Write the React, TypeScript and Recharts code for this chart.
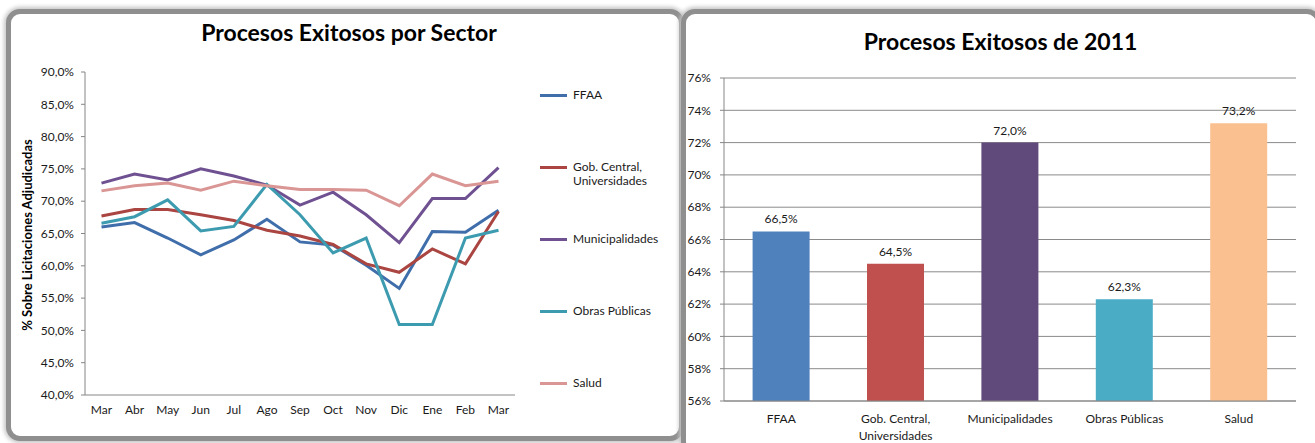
import { LineChart, Line, BarChart, Bar, Cell, XAxis, YAxis, CartesianGrid, LabelList } from 'recharts';

const months = ['Mar', 'Abr', 'May', 'Jun', 'Jul', 'Ago', 'Sep', 'Oct', 'Nov', 'Dic', 'Ene', 'Feb', 'Mar'];
const sectors = ['FFAA', 'Gob. Central, Universidades', 'Municipalidades', 'Obras Públicas', 'Salud'];

const ffaa = [66.0, 66.7, 64.3, 61.7, 64.0, 67.2, 63.7, 63.2, 60.1, 56.5, 65.3, 65.2, 68.6];
const gobCentral = [67.7, 68.7, 68.7, 67.9, 67.0, 65.5, 64.6, 63.3, 60.3, 59.0, 62.6, 60.3, 68.4];
const municipalidades = [72.8, 74.2, 73.3, 75.0, 73.9, 72.5, 69.4, 71.4, 67.9, 63.6, 70.4, 70.4, 75.2];
const obrasPublicas = [66.6, 67.6, 70.2, 65.4, 66.1, 72.6, 67.9, 62.0, 64.3, 50.9, 50.9, 64.3, 65.5];
const salud = [71.6, 72.4, 72.8, 71.7, 73.1, 72.4, 71.8, 71.8, 71.7, 69.3, 74.2, 72.4, 73.1];

const bars2011 = [66.5, 64.5, 72.0, 62.3, 73.2];

const lineTicks = [40, 45, 50, 55, 60, 65, 70, 75, 80, 85, 90];
const barTicks = [56, 58, 60, 62, 64, 66, 68, 70, 72, 74, 76];

const lineColors = ['#3f6eab', '#aa4541', '#6f5192', '#3d9bb0', '#d99694'];
const barColors = ['#4f81bd', '#c0504d', '#604a7b', '#4bacc6', '#fac090'];

const seriesKeys = ['s0', 's1', 's2', 's3', 's4'];
const allSeries = [ffaa, gobCentral, municipalidades, obrasPublicas, salud];

const lineData = months.map((m, i) => {
    const row: any = { month: m };
    allSeries.forEach((s, j) => { row[seriesKeys[j]] = s[i]; });
    return row;
});
const barData = sectors.map((s, i) => ({ name: s, value: bars2011[i] }));

const FONT = 'Lato, "Open Sans", sans-serif';
const pct1 = (v: number) => v.toFixed(1).replace('.', ',') + '%';
const pct0 = (v: number) => v.toFixed(0) + '%';

function SectorTick({ x, y, payload }: any) {
    const label: string = payload.value;
    const parts = label.includes(', ') ? [label.split(', ')[0] + ',', label.split(', ')[1]] : [label];
    return (
        <text x={x} y={y + 8} textAnchor="middle" fill="#1a1a1a" fontSize={12} fontFamily={FONT}>
            {parts.map((p, i) => (
                <tspan key={i} x={x} dy={i === 0 ? 6 : 17}>{p}</tspan>
            ))}
        </text>
    );
}

const panel = {
    position: 'absolute' as const,
    background: '#fff',
    border: '5px solid #8f8f8f',
    borderRadius: 14,
    boxShadow: '0 0 4px 2px #c4c4c4',
    boxSizing: 'border-box' as const,
};

export default function App() {
    return (
        <div style={{ position: 'absolute', left: 0, top: 0, width: 1315, height: 443, overflow: 'hidden', background: '#fff', fontFamily: FONT }}>
            <div style={{ ...panel, left: 6, top: 9, width: 678, height: 432 }} />
            <div style={{ ...panel, left: 681, top: 9, width: 640, height: 446 }} />

            {/* left chart */}
            <div style={{ position: 'absolute', left: 0, top: 18, width: 698, textAlign: 'center', fontSize: 23, fontWeight: 700, color: '#000' }}>
                Procesos Exitosos por Sector
            </div>
            <div style={{ position: 'absolute', left: 27, top: 235, transform: 'translate(-50%, -50%) rotate(-90deg)', whiteSpace: 'nowrap', fontSize: 13, fontWeight: 700, color: '#000' }}>
                % Sobre Licitaciones Adjudicadas
            </div>
            <div style={{ position: 'absolute', left: 0, top: 0 }}>
                <LineChart width={685} height={443} data={lineData} margin={{ top: 72, right: 170, bottom: 18, left: 15 }}>
                    <XAxis
                        dataKey="month"
                        padding={{ left: 16.5, right: 16.5 }}
                        stroke="#868686"
                        tickLine={false}
                        tickMargin={4}
                        tick={{ fill: '#1a1a1a', fontSize: 12, fontFamily: FONT }}
                        interval={0}
                    />
                    <YAxis
                        width={70}
                        domain={[40, 90]}
                        ticks={lineTicks}
                        tickFormatter={pct1}
                        stroke="#868686"
                        tickSize={4}
                        tickMargin={7}
                        tick={{ fill: '#1a1a1a', fontSize: 12, fontFamily: FONT }}
                        interval={0}
                    />
                    {seriesKeys.map((k, i) => (
                        <Line
                            key={k}
                            type="linear"
                            dataKey={k}
                            stroke={lineColors[i]}
                            strokeWidth={3}
                            dot={false}
                            isAnimationActive={false}
                        />
                    ))}
                </LineChart>
            </div>
            {/* legend */}
            {sectors.map((s, i) => {
                const lines = s.includes(', ') ? [s.split(', ')[0] + ',', s.split(', ')[1]] : [s];
                const top = 95 + i * 72;
                return (
                    <div key={s} style={{ position: 'absolute', left: 540, top: top - 7, display: 'flex', alignItems: 'flex-start', fontSize: 12, color: '#1a1a1a', lineHeight: '14px' }}>
                        <div style={{ width: 27, height: 3, background: lineColors[i], marginTop: 6, marginRight: 6 }} />
                        <div>{lines.map((l) => <div key={l}>{l}</div>)}</div>
                    </div>
                );
            })}

            {/* right chart */}
            <div style={{ position: 'absolute', left: 686, top: 27, width: 629, textAlign: 'center', fontSize: 23, fontWeight: 700, color: '#000' }}>
                Procesos Exitosos de 2011
            </div>
            <div style={{ position: 'absolute', left: 680, top: 0 }}>
                <BarChart width={635} height={443} data={barData} margin={{ top: 78, right: 19, bottom: 2, left: 4 }} barCategoryGap="25%">
                    <CartesianGrid vertical={false} stroke="#8a8a8a" />
                    <XAxis
                        dataKey="name"
                        height={40}
                        stroke="#868686"
                        tickLine={false}
                        tick={<SectorTick />}
                        interval={0}
                    />
                    <YAxis
                        width={40}
                        domain={[56, 76]}
                        ticks={barTicks}
                        tickFormatter={pct0}
                        stroke="#868686"
                        tickSize={4}
                        tickMargin={9}
                        tick={{ fill: '#1a1a1a', fontSize: 12, fontFamily: FONT }}
                        interval={0}
                    />
                    <Bar dataKey="value" isAnimationActive={false}>
                        {barData.map((d, i) => <Cell key={d.name} fill={barColors[i]} />)}
                        <LabelList dataKey="value" position="top" offset={8} formatter={(v: any) => pct1(Number(v))} fill="#1a1a1a" fontSize={12} fontFamily={FONT} />
                    </Bar>
                </BarChart>
            </div>
        </div>
    );
}
